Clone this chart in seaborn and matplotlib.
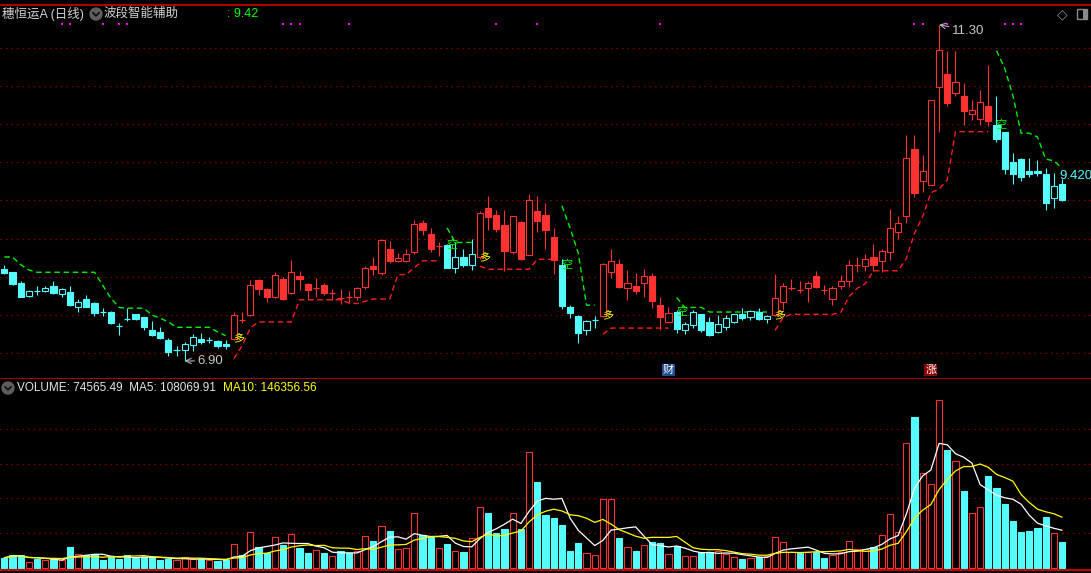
import numpy as np
import pandas as pd
import matplotlib
matplotlib.use("Agg")
import matplotlib.pyplot as plt
import seaborn as sns
from matplotlib.transforms import blended_transform_factory, IdentityTransform
from matplotlib.patches import Circle, FancyBboxPatch
from matplotlib.lines import Line2D

nan = np.nan

# ---------------- data ----------------
open_ = [8.10, 8.06, 7.92, 7.75, 7.82, 7.82, 7.88, 7.77, 7.80, 7.61,
         7.71, 7.66, 7.55, 7.54, 7.37, 7.46, 7.51, 7.47, 7.30, 7.28,
         7.17, 7.04, 7.04, 7.11, 7.19, 7.17, 7.16, 7.12, 7.19, 7.44,
         7.50, 7.96, 7.84, 7.74, 7.97, 7.79, 8.01, 7.91, 7.85, 7.89,
         7.79, 7.73, 7.74, 7.73, 7.87, 8.14, 8.05, 8.36, 8.21, 8.21,
         8.33, 8.71, 8.56, 8.41, 8.42, 8.12, 8.26, 8.16, 8.26, 8.90,
         8.81, 8.68, 8.32, 8.72, 8.29, 8.86, 8.81, 8.52, 8.16, 7.60,
         7.49, 7.31, 7.43, 7.49, 8.07, 8.17, 7.86, 7.88, 7.92, 8.01,
         7.63, 7.41, 7.54, 7.30, 7.37, 7.51, 7.41, 7.28, 7.34, 7.41,
         7.51, 7.48, 7.54, 7.45, 7.50, 7.67, 7.86, 7.84, 7.86, 8.01,
         7.84, 7.71, 7.88, 7.94, 8.16, 8.14, 8.26, 8.21, 8.33, 8.59,
         8.79, 9.67, 9.25, 9.20, 10.48, 10.65, 10.40, 10.37, 10.13, 10.07,
         10.24, 9.99, 9.89, 9.50, 9.54, 9.38, 9.39, 9.35, 9.03, 9.21]

close = [8.05, 7.91, 7.74, 7.82, 7.81, 7.86, 7.79, 7.84, 7.63, 7.67,
         7.61, 7.53, 7.54, 7.40, 7.36, 7.45, 7.45, 7.35, 7.24, 7.20,
         7.02, 7.04, 7.12, 7.21, 7.15, 7.17, 7.10, 7.09, 7.50, 7.43,
         7.89, 7.84, 7.73, 8.02, 7.71, 8.06, 7.97, 7.83, 7.85, 7.79,
         7.79, 7.72, 7.73, 7.85, 8.11, 8.10, 8.48, 8.21, 8.25, 8.30,
         8.69, 8.61, 8.36, 8.41, 8.12, 8.26, 8.16, 8.30, 8.84, 8.78,
         8.63, 8.34, 8.79, 8.24, 9.01, 8.73, 8.61, 8.22, 7.62, 7.53,
         7.27, 7.42, 7.43, 8.17, 8.21, 7.87, 7.92, 7.82, 8.01, 7.69,
         7.48, 7.53, 7.32, 7.38, 7.54, 7.30, 7.24, 7.38, 7.46, 7.51,
         7.46, 7.55, 7.45, 7.49, 7.72, 7.88, 7.86, 7.83, 7.92, 7.87,
         7.83, 7.86, 7.95, 8.16, 8.16, 8.24, 8.15, 8.34, 8.64, 8.71,
         9.56, 9.10, 9.39, 10.31, 10.97, 10.28, 10.55, 10.17, 10.18, 10.29,
         10.04, 9.81, 9.41, 9.34, 9.31, 9.34, 9.36, 8.96, 9.19, 9.00]

high = [8.16, 8.07, 7.95, 7.83, 7.88, 7.88, 7.95, 7.85, 7.88, 7.71,
        7.76, 7.67, 7.59, 7.55, 7.40, 7.59, 7.52, 7.48, 7.42, 7.34,
        7.20, 7.10, 7.15, 7.25, 7.27, 7.21, 7.17, 7.17, 7.54, 7.54,
        7.96, 7.97, 7.85, 8.06, 8.00, 8.22, 8.08, 7.92, 7.99, 7.92,
        7.84, 7.84, 7.81, 7.87, 8.14, 8.26, 8.50, 8.47, 8.31, 8.36,
        8.74, 8.75, 8.64, 8.46, 8.43, 8.46, 8.37, 8.50, 8.86, 9.06,
        8.88, 8.88, 8.80, 8.73, 9.09, 9.06, 8.96, 8.64, 8.23, 7.63,
        7.50, 7.44, 7.49, 8.18, 8.37, 8.24, 8.09, 8.05, 8.10, 8.05,
        7.73, 7.61, 7.57, 7.41, 7.56, 7.52, 7.48, 7.50, 7.50, 7.52,
        7.59, 7.56, 7.59, 7.50, 8.04, 7.92, 7.97, 7.94, 7.94, 8.08,
        7.89, 7.88, 8.02, 8.22, 8.26, 8.30, 8.43, 8.37, 8.89, 8.80,
        9.86, 9.86, 9.59, 10.31, 11.30, 10.95, 10.96, 10.54, 10.31, 10.44,
        10.77, 10.36, 9.90, 9.62, 9.55, 9.56, 9.53, 9.42, 9.36, 9.28]

low = [8.04, 7.89, 7.73, 7.74, 7.76, 7.80, 7.78, 7.73, 7.62, 7.54,
       7.60, 7.49, 7.49, 7.38, 7.24, 7.42, 7.44, 7.30, 7.23, 7.19,
       6.96, 6.97, 6.90, 7.03, 7.12, 7.13, 7.07, 7.06, 7.18, 7.39,
       7.49, 7.76, 7.67, 7.72, 7.70, 7.78, 7.83, 7.71, 7.74, 7.76,
       7.70, 7.65, 7.66, 7.70, 7.84, 8.03, 8.02, 8.18, 8.20, 8.20,
       8.30, 8.55, 8.33, 8.27, 8.11, 8.05, 8.13, 8.09, 8.24, 8.61,
       8.59, 8.08, 8.30, 8.22, 8.28, 8.59, 8.37, 8.04, 7.58, 7.46,
       7.14, 7.24, 7.33, 7.48, 7.99, 7.86, 7.70, 7.78, 7.74, 7.59,
       7.30, 7.39, 7.27, 7.25, 7.33, 7.28, 7.23, 7.27, 7.30, 7.39,
       7.44, 7.43, 7.44, 7.39, 7.49, 7.57, 7.83, 7.79, 7.67, 7.86,
       7.78, 7.63, 7.84, 7.87, 8.07, 8.08, 8.08, 8.07, 8.22, 8.50,
       8.71, 9.05, 9.11, 9.20, 9.90, 10.24, 10.36, 9.99, 10.05, 9.99,
       9.98, 9.76, 9.35, 9.22, 9.25, 9.31, 9.32, 8.87, 8.90, 8.99]

volume = [28900, 37500, 35500, 16400, 25100, 21100, 25100, 21100, 59700, 38400,
          35500, 38400, 22200, 31700, 26000, 36600, 28000, 31700, 29700, 23100,
          26000, 21100, 29700, 23900, 26000, 21100, 19300, 21100, 67200, 35500,
          101800, 59700, 42400, 87400, 66400, 96100, 56800, 42400, 49900, 42400,
          32600, 48200, 41300, 48200, 90300, 77000, 119200, 105900, 52800, 56800,
          156700, 94300, 89400, 55700, 68400, 47000, 45300, 84500, 174000, 157800,
          100100, 111600, 156700, 111600, 332600, 247200, 152000, 144300, 123200, 48200,
          71300, 41300, 35500, 197000, 197000, 86600, 59700, 48200, 64300, 75000,
          71300, 39500, 62600, 33800, 33800, 45300, 45300, 49000, 38400, 30900,
          25100, 28000, 30900, 32600, 88600, 74100, 46200, 42400, 46200, 45300,
          28000, 36600, 45300, 75900, 52800, 52800, 59700, 94300, 154900, 101800,
          359800, 434800, 273200, 240300, 485000, 339600, 306700, 221300, 156700, 174000,
          264600, 229900, 183800, 134700, 103000, 105900, 114500, 146300, 99000, 74565.49]

# band indicator: red support line (long) and green resistance line (short)
support = ([nan] * 28 +
           [6.93, 7.10, 7.33, 7.41, 7.41, 7.41, 7.41, 7.41, 7.70, 7.70,
            7.70, 7.70, 7.70, 7.70, 7.66, 7.65, 7.68, 7.71, 7.71, 7.71,
            8.03, 8.03, 8.12, 8.21, 8.21, 8.21] +
           [nan] * 4 +
           [8.14, 8.10, 8.10, 8.10, 8.10, 8.10, 8.10, 8.23, 8.23, 8.23] +
           [nan] * 5 +
           [7.25, 7.33, 7.33, 7.33, 7.33, 7.33, 7.33, 7.33, 7.33] +
           [nan] * 12 +
           [7.30, 7.47, 7.51, 7.51, 7.51, 7.51, 7.51, 7.51, 7.53, 7.74,
            7.85, 7.91, 8.08, 8.08, 8.08, 8.08, 8.24, 8.57, 8.79, 9.10,
            9.15, 9.27, 9.90, 9.90, 9.90, 9.90, 9.90] +
           [nan] * 9)

resist = ([8.26, 8.26, 8.16, 8.09, 8.06, 8.06, 8.06, 8.06, 8.06, 8.06,
           8.06, 8.06, 7.89, 7.72, 7.60, 7.59, 7.59, 7.59, 7.50, 7.46,
           7.41, 7.34, 7.34, 7.34, 7.34, 7.34, 7.28, 7.23] +
          [nan] * 26 +
          [8.64, 8.45, 8.45, 8.45] +
          [nan] * 10 +
          [8.93, 8.64, 8.31, 7.63, 7.63] +
          [nan] * 9 +
          [7.73, 7.60, 7.60, 7.60, 7.54, 7.54, 7.54, 7.54, 7.54, 7.54,
           7.54, 7.54] +
          [nan] * 27 +
          [10.96, 10.73, 10.37, 9.88, 9.88, 9.83, 9.54, 9.52, 9.42])

signal_days = [7, 8, 12, 14, 15, 34, 35, 36, 42, 60, 65, 80, 111, 112, 115, 122, 123, 124]
event_days = [81, 113]
event_tags = ["财", "涨"]

stock_title = "穗恒运A (日线)"
indicator_title = "波段智能辅助"
vol_title = "VOLUME: 74565.49  MA5: 108069.91"
vol_ma10_title = "MA10: 146356.56"

# ---------------- style ----------------
RED = "#FF3232"
CYAN = "#54FCFC"
LINE_RED = "#FF1E1E"
LINE_GREEN = "#00F000"
GRID = "#8C0000"
FRAME = "#C00000"

sns.set_theme(style="dark", rc={"axes.facecolor": "black", "figure.facecolor": "black",
                                "savefig.facecolor": "black"})
plt.rcParams["font.family"] = ["Liberation Sans", "Noto Sans CJK SC", "DejaVu Sans"]

W, H = 1091, 573
fig = plt.figure(figsize=(W / 100, H / 100), dpi=100)

def fy(py):
    return 1 - py / H

ax = fig.add_axes([0, fy(379), 1, fy(4.5) - fy(379)])
axv = fig.add_axes([0, fy(570), 1, fy(379) - fy(570)], sharex=ax)

o = np.array(open_); c = np.array(close); hi = np.array(high); lo = np.array(low)
vol = np.array(volume, dtype=float)
sup = np.array(support, dtype=float); res = np.array(resist, dtype=float)
N = len(o)
x = np.arange(N)
step = 8.2
ax.set_xlim(-4.3 / step, (W - 4.3) / step)
ax.set_ylim(10 - (379 - 124) / 76.43, 10 + (124 - 4.5) / 76.43)
axv.set_ylim(-(570 - 567.7) * 2885, (567.7 - 379) * 2885)

for a in (ax, axv):
    a.set_facecolor("black")
    a.tick_params(left=False, bottom=False, labelleft=False, labelbottom=False)
    for s in ("left", "right"):
        a.spines[s].set_visible(False)
    a.set_xlabel(""); a.set_ylabel("")
ax.spines["top"].set_color(FRAME); ax.spines["top"].set_linewidth(1.3)
ax.spines["bottom"].set_color(FRAME); ax.spines["bottom"].set_linewidth(1.3)
axv.spines["top"].set_visible(False)
axv.spines["bottom"].set_color(FRAME); axv.spines["bottom"].set_linewidth(1.5)

GRID_STYLE = dict(color=GRID, linestyle=(0, (1.2, 3.2)), linewidth=0.9)
ax.set_yticks(np.arange(7.0, 11.01, 0.5))
ax.grid(axis="y", **GRID_STYLE)
ax.grid(axis="x", visible=False)
axv.set_yticks([100000, 200000, 300000, 400000])
axv.grid(axis="y", **GRID_STYLE)
axv.grid(axis="x", visible=False)

# ---------------- indicator lines (seaborn) ----------------
def seg_frame(arr):
    s = pd.Series(arr)
    valid = s.notna()
    seg = (valid != valid.shift()).cumsum()
    return pd.DataFrame({"idx": x, "val": s, "seg": seg})[valid]

sns.lineplot(data=seg_frame(sup), x="idx", y="val", units="seg", estimator=None,
             color=LINE_RED, lw=1.0, linestyle=(0, (4, 2.6)), ax=ax, zorder=1)
sns.lineplot(data=seg_frame(res), x="idx", y="val", units="seg", estimator=None,
             color=LINE_GREEN, lw=1.0, linestyle=(0, (4, 2.6)), ax=ax, zorder=1)
ax.set_xlabel(""); ax.set_ylabel("")

# ---------------- candles ----------------
uptrend = ~np.isnan(sup)
col = np.where(uptrend, RED, CYAN)
doji = np.abs(c - o) < 0.015
rising = c > o
W_BODY = 0.78
ax.vlines(x, lo, hi, colors=col, lw=0.8, zorder=2)
m = ~doji
face = np.where(rising, "black", col)
ax.bar(x[m], np.abs(c - o)[m], bottom=np.minimum(o, c)[m], width=W_BODY,
       color=face[m], edgecolor=col[m], linewidth=0.8, zorder=3)
ax.hlines(c[doji], x[doji] - W_BODY / 2, x[doji] + W_BODY / 2, colors=col[doji], lw=0.9, zorder=3)

# long / short markers at trend switches
tr = pd.Series(uptrend)
starts = x[(tr != tr.shift()).values & (x > 0)]
for i in starts:
    if uptrend[i]:
        ax.text(i + 0.55, o[i], "多", color="#FFFF00", fontsize=8, ha="center", va="center", zorder=5)
    else:
        ax.text(i + 0.55, o[i], "空", color="#00FF00", fontsize=8, ha="center", va="center", zorder=5)

# signal dots on top
btr = blended_transform_factory(ax.transData, ax.transAxes)
ax.scatter(signal_days, [(379 - 24) / 374.5] * len(signal_days), transform=btr,
           marker="s", s=2.5, color="#FF00FF", linewidths=0, zorder=5)

# events
ev_colors = ["#1F4E8C", "#8B0000"]
for d, t, bc in zip(event_days, event_tags, ev_colors):
    ax.text(d, (379 - 370) / 374.5, t, transform=btr, color="white", fontsize=8,
            ha="center", va="center", zorder=6,
            bbox=dict(boxstyle="square,pad=0.08", fc=bc, ec="none"))

# price labels
imax = int(np.argmax(hi)); imin = int(np.argmin(lo))
arrow = dict(arrowstyle="->", color="#B4B4B4", lw=0.8, shrinkA=0, shrinkB=0)
ax.annotate(f"{hi[imax]:.2f}", xy=(imax, hi[imax]), xytext=(13, -6), textcoords="offset pixels",
            color="#C8C8C8", fontsize=9.5, ha="left", va="center", arrowprops=arrow, zorder=6)
ax.annotate(f"{lo[imin]:.2f}", xy=(imin, lo[imin]), xytext=(13, 0), textcoords="offset pixels",
            color="#C8C8C8", fontsize=9.5, ha="left", va="center", arrowprops=arrow, zorder=6)
ax.annotate(f"{res[-1]:.3f}", xy=(N - 1, res[-1]), xytext=(-3, -2), textcoords="offset pixels",
            color=CYAN, fontsize=9.5, ha="left", va="top", zorder=6)

# ---------------- volume ----------------
vup = c >= o
vcol = np.where(vup, RED, CYAN)
vface = np.where(vup, "black", CYAN)
axv.bar(x, vol, width=W_BODY, color=vface, edgecolor=vcol, linewidth=0.8, zorder=2)
vdf = pd.DataFrame({"idx": x, "vol": vol})
vdf["ma5"] = vdf["vol"].rolling(5, min_periods=1).mean()
vdf["ma10"] = vdf["vol"].rolling(10, min_periods=1).mean()
sns.lineplot(data=vdf, x="idx", y="ma5", color="white", lw=0.9, ax=axv, zorder=4)
sns.lineplot(data=vdf, x="idx", y="ma10", color="#FFFF00", lw=0.9, ax=axv, zorder=4)
axv.set_xlabel(""); axv.set_ylabel("")

# ---------------- header texts & icons ----------------
def ptext(px, py, s, **kw):
    fig.text(px / W, fy(py), s, va="center", ha="left", **kw)

def chevron(cx, cy, r=6):
    fig.add_artist(Circle((cx, H - cy), r, transform=IdentityTransform(), color="#5E5E5E", zorder=10))
    fig.add_artist(Line2D([cx - 3, cx, cx + 3], [H - cy + 1.2, H - cy - 1.8, H - cy + 1.2],
                          transform=IdentityTransform(), color="#101010", lw=1.3, zorder=11))

ptext(2, 14, stock_title, color="#D2D2D2", fontsize=9)
chevron(96, 14)
ptext(104, 14, indicator_title, color="#D2D2D2", fontsize=9)
ptext(227, 14, f": {res[-1]:.2f}", color="#00FF00", fontsize=9)
ptext(1057, 14, "◇", color="#8A8A8A", fontsize=10, family=["DejaVu Sans"])
fig.add_artist(FancyBboxPatch((1078, H - 19), 9, 9, boxstyle="round,pad=0.5",
                              transform=IdentityTransform(), fc="black", ec="#8A8A8A", lw=1.0, zorder=10))
fig.add_artist(FancyBboxPatch((1083, H - 19), 4, 9, boxstyle="square,pad=0",
                              transform=IdentityTransform(), fc="#8A8A8A", ec="none", zorder=11))

chevron(8, 388)
ptext(17, 388, vol_title, color="#E6E6E6", fontsize=8.5)
ptext(223, 388, vol_ma10_title, color="#FFFF00", fontsize=8.5)

fig.savefig("out.png", dpi=100, facecolor="black")
